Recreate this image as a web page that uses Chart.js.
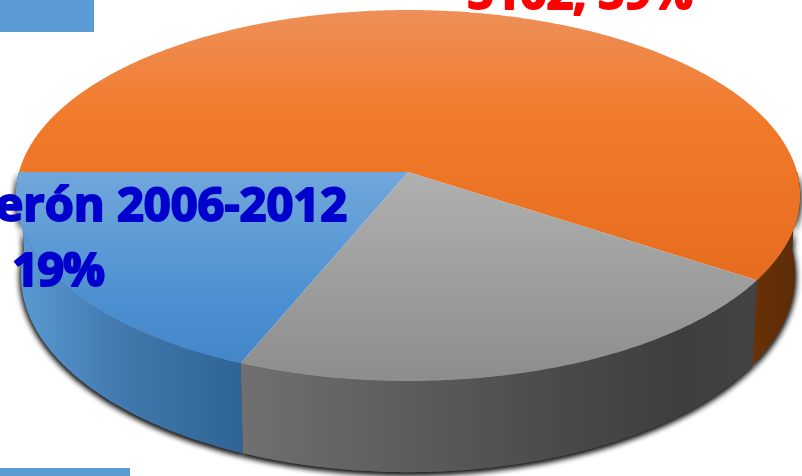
<!DOCTYPE html>
<html lang="es">
<head>
<meta charset="utf-8">
<title>Pie 3D</title>
<script src="https://cdn.jsdelivr.net/npm/chart.js"></script>
<style>
	html, body{ margin: 0; padding: 0; width: 802px; height: 476px; overflow: hidden; background: #fff; }
	#myChart{ position: absolute; left: 0; top: 0; }
	.key{ position: absolute; left: 0; background: #5B9BD5; }
	#key1{ top: 0; width: 94px; height: 32px; }
	#key2{ top: 468px; width: 130px; height: 8px; }
</style>
</head>
<body>
<canvas id="myChart" width="802" height="476"></canvas>
<div class="key" id="key1"></div>
<div class="key" id="key2"></div>
<script>
const labels = ['Peña Nieto', 'Otros', 'Calderón 2006-2012'];
const values = [59.3, 21.9, 18.8];
const redLabel = '5102, 59%';
const blueLabel = 'Calderón 2006-2012';
const bluePercent = '19%';

// colores por rebanada: cara superior (vertical) y pared (horizontal)
const topColors = [
	[[10, '#EE8F58'], [120, '#F17A2A'], [285, '#E56C1D']],
	[[172, '#B0B0B0'], [375, '#8E8E8E']],
	[[172, '#71A7DB'], [300, '#4C90D1'], [365, '#4487C9']]
];
const wallColors = [
	[[750, '#6A3208'], [800, '#5A2B07']],
	[[243, '#707070'], [560, '#4A4A4A'], [680, '#3E3E3E'], [755, '#434343']],
	[[15, '#5B9BD5'], [120, '#4279AE'], [243, '#2E6394']]
];

// perspectiva del disco
const persp = -0.1267;
const upper = { x: 408, y: 172, kx: 389, ky: 182.5 };
const lower = { x: 408, y: 250, kx: 384, ky: 194 };

function project(a, rim){
	const w = 1 + persp * Math.sin(a);
	return [rim.x + rim.kx * Math.cos(a) / w, rim.y + rim.ky * Math.sin(a) / w];
}

function arcPoints(from, to, rim){
	const pts = [];
	const n = Math.max(2, Math.ceil(Math.abs(to - from) * 90));
	for(let i = 0; i <= n; i++){
		pts.push(project(from + (to - from) * i / n, rim));
	}
	return pts;
}

function fillPath(ctx, pts){
	ctx.beginPath();
	pts.forEach((p, i) => i ? ctx.lineTo(p[0], p[1]) : ctx.moveTo(p[0], p[1]));
	ctx.closePath();
	ctx.fill();
}

function gradient(ctx, stops, vertical){
	const first = stops[0][0], last = stops[stops.length - 1][0];
	const g = vertical ? ctx.createLinearGradient(0, first, 0, last) : ctx.createLinearGradient(first, 0, last, 0);
	stops.forEach(s => g.addColorStop((s[0] - first) / (last - first), s[1]));
	return g;
}

function wallPoints(arc){
	// solo la parte delantera del disco tiene pared visible
	let a0 = arc.startAngle, a1 = arc.endAngle;
	if(a0 < 0) a0 = 0;
	if(a1 > Math.PI) a1 = Math.PI;
	if(a1 <= a0) return null;
	return arcPoints(a0, a1, upper).concat(arcPoints(a1, a0, lower));
}

function drawLabel(ctx, text, x, y, color, align, spacing){
	ctx.fillStyle = ctx.strokeStyle = color;
	ctx.textAlign = align;
	ctx.letterSpacing = spacing;
	ctx.fillText(text, x, y);
	ctx.strokeText(text, x, y);
}

const pie3d = {
	id: 'pie3d',
	beforeDatasetDraw(chart, args){
		const ctx = chart.ctx;
		const arcs = chart.getDatasetMeta(args.index).data;
		ctx.save();

		// sombra suave del borde
		ctx.shadowColor = 'rgba(20,20,20,1)';
		ctx.shadowBlur = 6;
		ctx.shadowOffsetY = 2;
		ctx.fillStyle = '#555';
		for(let pass = 0; pass < 2; pass++){
			arcs.forEach(arc => {
				const pts = wallPoints(arc);
				if(pts) fillPath(ctx, pts);
			});
		}
		ctx.shadowColor = 'transparent';

		arcs.forEach((arc, i) => {
			const pts = wallPoints(arc);
			if(!pts) return;
			ctx.fillStyle = gradient(ctx, wallColors[i], false);
			fillPath(ctx, pts);
		});
		arcs.forEach((arc, i) => {
			ctx.fillStyle = gradient(ctx, topColors[i], true);
			fillPath(ctx, [[upper.x, upper.y]].concat(arcPoints(arc.startAngle, arc.endAngle, upper)));
		});
		ctx.restore();
		return false;
	},
	afterDraw(chart){
		const ctx = chart.ctx;
		ctx.save();
		ctx.font = 'bold 47px "Open Sans"';
		ctx.lineJoin = 'round';
		ctx.textBaseline = 'alphabetic';
		ctx.lineWidth = 2;
		drawLabel(ctx, redLabel, 467, 9, '#FF0000', 'left', '-0.4px');
		drawLabel(ctx, blueLabel, 347, 221, '#0000CC', 'right', '0px');
		drawLabel(ctx, bluePercent, 12, 286, '#0000CC', 'left', '-1.5px');
		ctx.restore();
	}
};

new Chart(document.getElementById('myChart'), {
	type: 'pie',
	data: {
		labels: labels,
		datasets: [{ data: values, borderWidth: 0 }]
	},
	options: {
		responsive: false,
		animation: false,
		rotation: -90,
		plugins: { legend: { display: false }, tooltip: { enabled: false } }
	},
	plugins: [pie3d]
});
</script>
</body>
</html>
